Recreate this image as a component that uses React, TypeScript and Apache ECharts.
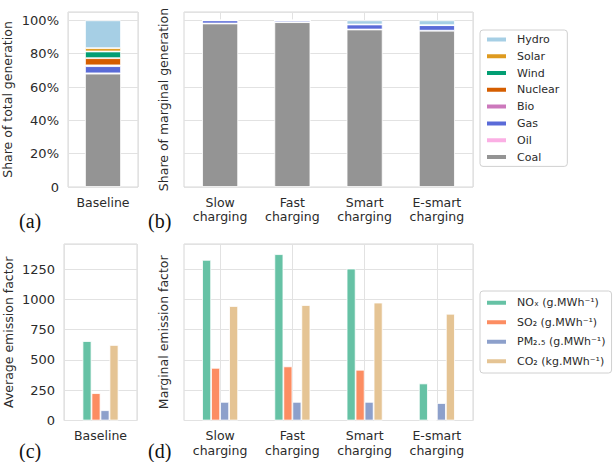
import React, { useEffect, useRef } from 'react';
import * as echarts from 'echarts';

// ---- Data ----
const baselineCategory = ['Baseline'];
const scenarioCategories = ['Slow\ncharging', 'Fast\ncharging', 'Smart\ncharging', 'E-smart\ncharging'];

// generation sources, stacked bottom -> top
const sourceNames = ['Coal', 'Oil', 'Gas', 'Bio', 'Nuclear', 'Wind', 'Solar', 'Hydro'];
const sourceColors = ['#949494', '#fbafe4', '#5a6bd8', '#cc78bc', '#d55e00', '#029e73', '#de9a1f', '#a6cfe5'];
const legendSourceOrder = ['Hydro', 'Solar', 'Wind', 'Nuclear', 'Bio', 'Gas', 'Oil', 'Coal'];

// share of total generation (baseline), % — order as sourceNames
const baselineShare = [68, 0.2, 4.3, 0.5, 4.3, 4, 2, 16.7];

// share of marginal generation, % — per scenario
const marginalCoal = [98.1, 98.9, 94.5, 93.8];
const marginalOil = [0, 0, 0, 0];
const marginalGas = [1.9, 1.1, 3.0, 3.3];
const marginalBio = [0, 0, 0, 0];
const marginalNuclear = [0, 0, 0, 0];
const marginalWind = [0, 0, 0, 0];
const marginalSolar = [0, 0, 0, 0];
const marginalHydro = [0, 0, 2.5, 2.9];
const marginalShares = [marginalCoal, marginalOil, marginalGas, marginalBio, marginalNuclear, marginalWind, marginalSolar, marginalHydro];

const shareTicks = [0, 20, 40, 60, 80, 100];

// emission factors
const pollutantNames = ['NOₓ (g.MWh⁻¹)', 'SO₂ (g.MWh⁻¹)', 'PM₂.₅ (g.MWh⁻¹)', 'CO₂ (kg.MWh⁻¹)'];
const pollutantColors = ['#66c2a5', '#fc8d62', '#8da0cb', '#e5c494'];
const baselineNOx = [656];
const baselineSO2 = [226];
const baselinePM = [85];
const baselineCO2 = [624];
const marginalNOx = [1327, 1374, 1255, 306];
const marginalSO2 = [435, 447, 419, 5];
const marginalPM = [154, 154, 154, 144];
const marginalCO2 = [946, 954, 974, 882];
const baselineEmissions = [baselineNOx, baselineSO2, baselinePM, baselineCO2];
const marginalEmissions = [marginalNOx, marginalSO2, marginalPM, marginalCO2];

const emissionTicks = [0, 250, 500, 750, 1000, 1250];

const TXT = '#2b2b2b';
const FONT = 'DejaVu Sans';
const GRIDLINE = '#e2e2e2';

export default function App() {
  const ref = useRef<HTMLDivElement>(null);

  useEffect(() => {
    if (!ref.current) return;
    const chart = echarts.init(ref.current, null, { renderer: 'svg' });

    const catAxis = (gridIndex: number, data: string[]) => ({
      type: 'category',
      gridIndex,
      data,
      axisLine: { show: false },
      axisTick: { show: false },
      axisLabel: { color: TXT, fontFamily: FONT, fontSize: 12.5, margin: 8, lineHeight: 14.5 },
      splitLine: { show: false },
    });

    // hidden helper axis: 2 half-bands per category so that gridlines fall on category centres
    const centreGridAxis = (gridIndex: number, data: string[]) => ({
      type: 'category',
      gridIndex,
      position: 'bottom',
      data: data.flatMap((d) => [d + '-l', d + '-r']),
      axisLine: { show: false },
      axisTick: { show: false },
      axisLabel: { show: false },
      splitLine: {
        show: true,
        interval: (i: number) => i % 2 === 1,
        lineStyle: { color: GRIDLINE, width: 1 },
      },
    });

    const valAxis = (gridIndex: number, max: number, interval: number, ticks: number[], showLabels: boolean, fmt: (v: number) => string, name: string, nameGap: number) => ({
      type: 'value',
      gridIndex,
      min: 0,
      max,
      interval,
      axisLine: { show: false },
      axisTick: { show: false },
      axisLabel: {
        show: showLabels,
        color: TXT,
        fontFamily: FONT,
        fontSize: 13,
        margin: 9,
        formatter: (v: number) => (ticks.indexOf(v) >= 0 ? fmt(v) : ''),
      },
      splitLine: { show: true, lineStyle: { color: GRIDLINE, width: 1 } },
      name,
      nameLocation: 'middle',
      nameRotate: 90,
      nameGap,
      nameTextStyle: { color: TXT, fontFamily: FONT, fontSize: 12.5 },
    });

    const series: any[] = [];
    sourceNames.forEach((name, i) => {
      series.push({
        type: 'bar', name, xAxisIndex: 0, yAxisIndex: 0, stack: 'a',
        data: [baselineShare[i]], barWidth: 36,
        itemStyle: { color: sourceColors[i], borderColor: '#fff', borderWidth: 0.8 },
      });
    });
    sourceNames.forEach((name, i) => {
      series.push({
        type: 'bar', name, xAxisIndex: 1, yAxisIndex: 1, stack: 'b',
        data: marginalShares[i], barWidth: 36,
        itemStyle: { color: sourceColors[i], borderColor: '#fff', borderWidth: 0.8 },
      });
    });
    pollutantNames.forEach((name, i) => {
      series.push({
        type: 'bar', name, xAxisIndex: 2, yAxisIndex: 2,
        data: baselineEmissions[i], barWidth: 9, barGap: '0%',
        itemStyle: { color: pollutantColors[i], borderColor: '#fff', borderWidth: 0.8 },
      });
    });
    pollutantNames.forEach((name, i) => {
      series.push({
        type: 'bar', name, xAxisIndex: 3, yAxisIndex: 3,
        data: marginalEmissions[i], barWidth: 9, barGap: '0%',
        itemStyle: { color: pollutantColors[i], borderColor: '#fff', borderWidth: 0.8 },
      });
    });

    const pct = (v: number) => (v === 0 ? '0' : v + '%');
    const num = (v: number) => String(v);

    const legendBase = {
      orient: 'vertical',
      icon: 'rect',
      itemWidth: 21,
      itemHeight: 6,
      backgroundColor: '#fff',
      borderColor: '#d0d0d0',
      borderWidth: 1,
      borderRadius: 3,
      selectedMode: false,
    };

    const labelText = (text: string, x: number, y: number) => ({
      type: 'text', x, y,
      style: { text, fill: '#111', font: '20px "Liberation Serif"', textVerticalAlign: 'middle' },
    });

    chart.setOption({
      animation: false,
      backgroundColor: '#fff',
      grid: [
        { left: 65, top: 12, width: 73, height: 175, show: true, borderColor: '#d6d6d6', borderWidth: 1 },
        { left: 184, top: 12, width: 289, height: 175, show: true, borderColor: '#d6d6d6', borderWidth: 1 },
        { left: 64, top: 244, width: 73, height: 176.5, show: true, borderColor: '#d6d6d6', borderWidth: 1 },
        { left: 184, top: 244, width: 289, height: 176.5, show: true, borderColor: '#d6d6d6', borderWidth: 1 },
      ],
      xAxis: [
        catAxis(0, baselineCategory),
        catAxis(1, scenarioCategories),
        catAxis(2, baselineCategory),
        catAxis(3, scenarioCategories),
        centreGridAxis(0, baselineCategory),
        centreGridAxis(1, scenarioCategories),
        centreGridAxis(2, baselineCategory),
        centreGridAxis(3, scenarioCategories),
      ],
      yAxis: [
        valAxis(0, 105, 20, shareTicks, true, pct, 'Share of total generation', 54),
        valAxis(1, 105, 20, shareTicks, false, pct, 'Share of marginal generation', 14),
        valAxis(2, 1458, 250, emissionTicks, true, num, 'Average emission factor', 49),
        valAxis(3, 1458, 250, emissionTicks, false, num, 'Marginal emission factor', 14),
      ],
      legend: [
        {
          ...legendBase,
          left: 480, top: 30,
          padding: [3, 8, 3, 5],
          itemGap: 4,
          data: legendSourceOrder,
          textStyle: { color: TXT, fontFamily: FONT, fontSize: 11, lineHeight: 12.8, padding: [0, 0, 0, 5] },
        },
        {
          ...legendBase,
          left: 480, top: 291,
          padding: [5, 6, 5, 5],
          itemGap: 6,
          data: pollutantNames,
          textStyle: { color: TXT, fontFamily: FONT, fontSize: 11, lineHeight: 13.5, padding: [0, 0, 0, 5] },
        },
      ],
      graphic: [
        labelText('(a)', 19, 220.5),
        labelText('(b)', 148, 220.5),
        labelText('(c)', 19, 450.5),
        labelText('(d)', 148, 450.5),
      ],
      series,
    });

    return () => chart.dispose();
  }, []);

  return <div ref={ref} style={{ position: 'fixed', left: 0, top: 0, width: 614, height: 462 }} />;
}
